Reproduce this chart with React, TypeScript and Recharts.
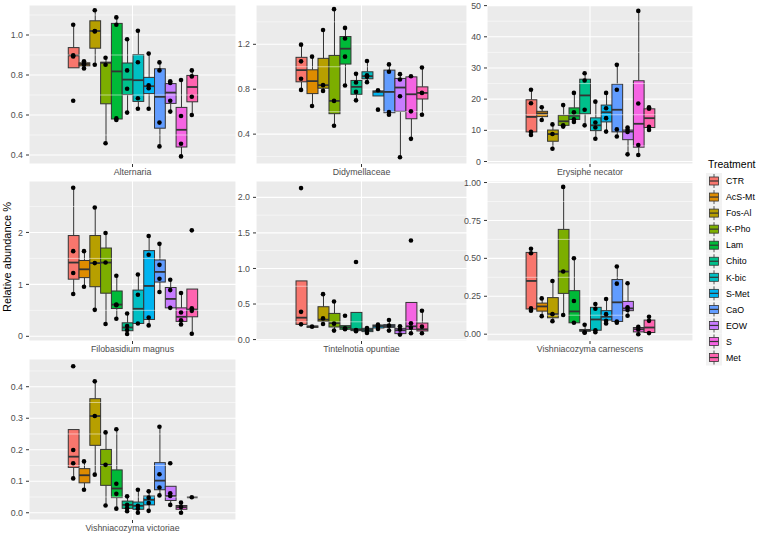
import React from "react";
import {
  Bar,
  CartesianGrid,
  ComposedChart,
  ReferenceLine,
  Scatter,
  XAxis,
  YAxis,
} from "recharts";

const TREATMENTS = ["CTR", "AcS-Mt", "Fos-Al", "K-Pho", "Lam", "Chito", "K-bic", "S-Met", "CaO", "EOW", "S", "Met"];
const COLORS = ["#F8766D", "#DE8C00", "#B79F00", "#7CAE00", "#00BA38", "#00C08B", "#00BFC4", "#00B4F0", "#619CFF", "#C77CFF", "#F564E3", "#FF64B0"];

// box stats per treatment: [lower whisker, q1, median, q3, upper whisker]
const ALT_BOX = [
  [0.836, 0.836, 0.898, 0.937, 1.051], [0.833, 0.846, 0.855, 0.861, 0.869], [0.851, 0.934, 1.02, 1.071, 1.124],
  [0.459, 0.656, 0.861, 0.864, 0.886], [0.575, 0.58, 0.818, 1.058, 1.088], [0.612, 0.702, 0.777, 0.86, 0.979],
  [0.631, 0.668, 0.774, 0.902, 1.021], [0.631, 0.707, 0.744, 0.788, 0.907], [0.443, 0.534, 0.691, 0.831, 0.863],
  [0.617, 0.658, 0.712, 0.757, 0.769], [0.393, 0.44, 0.526, 0.638, 0.775], [0.6, 0.666, 0.74, 0.798, 0.823],
];
const ALT_PTS = [
  [1.051, 0.898, 0.893, 0.671], [0.869, 0.856, 0.853, 0.833], [1.124, 1.02, 1.018, 0.851], [0.886, 0.851, 0.459],
  [1.088, 1.051, 0.583, 0.575], [0.979, 0.823, 0.731, 0.612], [1.021, 0.864, 0.684, 0.631], [0.907, 0.749, 0.734, 0.631],
  [0.863, 0.823, 0.562, 0.443], [0.769, 0.76, 0.671, 0.617], [0.775, 0.595, 0.456, 0.393], [0.823, 0.793, 0.691, 0.6],
];

const DID_BOX = [
  [0.794, 0.866, 0.97, 1.084, 1.197], [0.651, 0.761, 0.872, 0.973, 1.09], [0.785, 0.809, 0.836, 1.075, 1.328],
  [0.475, 0.582, 0.696, 1.101, 1.513], [0.833, 1.024, 1.161, 1.269, 1.346], [0.701, 0.755, 0.821, 0.878, 0.937],
  [0.863, 0.893, 0.916, 0.955, 1.051], [0.74, 0.74, 0.776, 0.785, 0.791], [0.573, 0.591, 0.776, 0.97, 1.021],
  [0.194, 0.603, 0.815, 0.896, 0.934], [0.358, 0.537, 0.755, 0.91, 0.916], [0.573, 0.713, 0.767, 0.821, 0.994],
];
const DID_PTS = [
  [1.197, 1.048, 0.893, 0.794], [1.09, 0.651], [1.328, 0.836, 0.785], [1.513, 0.696, 0.475],
  [1.346, 1.251, 1.09, 0.833], [0.937, 0.86, 0.776, 0.701], [1.051, 0.925, 0.91, 0.863], [0.791, 0.618],
  [1.021, 0.955, 0.597, 0.573], [0.934, 0.887, 0.737, 0.194], [0.916, 0.603, 0.358], [0.994, 0.767, 0.573],
];

const ERY_BOX = [
  [8.5, 9.5, 14.3, 19.8, 23.0], [13.3, 14.4, 15.4, 16.1, 17.4], [4.1, 6.5, 8.8, 10.1, 11.9],
  [11.2, 11.6, 12.9, 14.8, 18.1], [12.7, 13.5, 14.7, 17.2, 22.0], [11.6, 15.3, 21.2, 26.4, 28.3],
  [7.3, 9.9, 11.6, 14.0, 19.2], [9.6, 12.7, 15.8, 18.1, 22.0], [8.0, 9.5, 16.6, 24.8, 31.0],
  [2.3, 7.0, 9.6, 10.1, 10.9], [2.1, 4.6, 12.1, 25.9, 48.3], [10.1, 10.9, 13.9, 16.9, 17.4],
];
const ERY_PTS = [
  [23.0, 18.7, 9.5, 8.5], [17.4, 13.3], [11.9, 8.8, 4.1], [18.1, 11.6, 11.2],
  [22.0, 15.8, 13.5, 12.7], [28.3, 26.0, 16.6, 11.6], [19.2, 12.5, 10.9, 7.3], [22.0, 17.1, 13.9, 9.6],
  [31.0, 23.0, 10.3, 8.0], [10.9, 10.2, 9.5, 2.3], [48.3, 18.6, 5.3, 2.1], [17.4, 16.9, 11.1, 10.1],
];

const FIL_BOX = [
  [0.815, 1.1, 1.42, 1.94, 2.86], [0.955, 1.13, 1.29, 1.46, 1.64], [0.51, 0.955, 1.41, 1.94, 2.48],
  [0.236, 0.83, 1.42, 1.7, 1.99], [0.338, 0.535, 0.611, 0.873, 1.166], [0.045, 0.108, 0.17, 0.26, 0.44],
  [0.248, 0.248, 0.53, 0.89, 1.19], [0.21, 0.325, 0.97, 1.65, 1.93], [0.854, 1.045, 1.24, 1.47, 1.78],
  [0.548, 0.548, 0.72, 0.94, 1.09], [0.23, 0.287, 0.376, 0.548, 0.834], [0.05, 0.376, 0.516, 0.91, 0.91],
];
const FIL_PTS = [
  [2.86, 1.64, 1.22, 0.815], [1.64, 0.955], [2.48, 1.41, 0.51], [1.99, 1.42, 0.236],
  [1.166, 0.611, 0.6, 0.338], [0.44, 0.2, 0.12, 0.045], [1.19, 0.8, 0.248], [1.93, 1.57, 0.36, 0.21],
  [1.78, 1.376, 1.108, 0.854], [1.09, 0.89, 0.548], [0.834, 0.46, 0.31, 0.23], [2.04, 0.54, 0.49, 0.05],
];

const TIN_BOX = [
  [0.214, 0.214, 0.308, 0.825, 0.825], [0.172, 0.172, 0.182, 0.191, 0.191], [0.219, 0.256, 0.28, 0.462, 0.639],
  [0.126, 0.177, 0.233, 0.368, 0.536], [0.145, 0.145, 0.172, 0.196, 0.196], [0.117, 0.126, 0.145, 0.382, 0.382],
  [0.093, 0.112, 0.135, 0.158, 0.163], [0.149, 0.163, 0.191, 0.205, 0.21], [0.126, 0.172, 0.191, 0.21, 0.275],
  [0.07, 0.084, 0.131, 0.158, 0.186], [0.089, 0.145, 0.186, 0.522, 0.522], [0.089, 0.121, 0.145, 0.233, 0.406],
];
const TIN_PTS = [
  [2.13, 0.39, 0.214], [0.182], [0.639, 0.298, 0.219], [0.536, 0.224, 0.126],
  [0.336, 0.158, 0.145], [1.09, 0.135, 0.117], [0.163, 0.126, 0.093], [0.21, 0.182, 0.149],
  [0.275, 0.196, 0.126], [0.186, 0.14, 0.07], [1.394, 0.228, 0.168, 0.089], [0.406, 0.182, 0.089],
];

const CAR_BOX = [
  [0.15, 0.166, 0.351, 0.539, 0.563], [0.119, 0.152, 0.183, 0.205, 0.236], [0.086, 0.108, 0.132, 0.241, 0.351],
  [0.126, 0.269, 0.413, 0.691, 0.971], [0.075, 0.075, 0.15, 0.287, 0.501], [0.009, 0.02, 0.024, 0.031, 0.062],
  [0.013, 0.026, 0.097, 0.177, 0.199], [0.071, 0.093, 0.115, 0.155, 0.232], [0.075, 0.084, 0.21, 0.36, 0.446],
  [0.121, 0.155, 0.17, 0.216, 0.336], [0.0, 0.015, 0.033, 0.044, 0.049], [0.007, 0.011, 0.044, 0.093, 0.115],
];
const CAR_PTS = [
  [0.563, 0.534, 0.17, 0.155], [0.236, 0.119], [0.351, 0.132, 0.086], [0.971, 0.413, 0.126],
  [0.501, 0.219, 0.075], [0.062, 0.013, 0.009], [0.199, 0.168, 0.026, 0.013], [0.232, 0.132, 0.088, 0.071],
  [0.446, 0.333, 0.084, 0.075], [0.336, 0.177, 0.159, 0.121], [0.049, 0.031, 0.0], [0.115, 0.088, 0.007],
];

const VIC_BOX = [
  [0.109, 0.144, 0.178, 0.264, 0.264], [0.073, 0.095, 0.119, 0.14, 0.163], [0.121, 0.214, 0.307, 0.362, 0.417],
  [0.023, 0.087, 0.152, 0.201, 0.255], [0.013, 0.048, 0.077, 0.136, 0.265], [0.005, 0.014, 0.025, 0.037, 0.052],
  [0.0, 0.011, 0.022, 0.034, 0.073], [0.006, 0.025, 0.041, 0.053, 0.068], [0.055, 0.073, 0.102, 0.159, 0.273],
  [0.025, 0.039, 0.053, 0.084, 0.084], [0.0, 0.011, 0.018, 0.023, 0.032], [0.049, 0.049, 0.049, 0.049, 0.049],
];
const VIC_PTS = [
  [0.465, 0.199, 0.157, 0.109], [0.163, 0.073], [0.417, 0.307, 0.121], [0.255, 0.152, 0.023],
  [0.265, 0.092, 0.06, 0.013], [0.052, 0.025, 0.014, 0.005], [0.073, 0.022, 0.013, 0.0], [0.068, 0.048, 0.031, 0.006],
  [0.273, 0.122, 0.08, 0.055], [0.157, 0.062, 0.053, 0.025], [0.032, 0.018, 0.0], [0.049],
];

const ALT_TICKS = [0.4, 0.6, 0.8, 1.0];
const DID_TICKS = [0.4, 0.8, 1.2];
const ERY_TICKS = [0, 10, 20, 30, 40, 50];
const FIL_TICKS = [0, 1, 2];
const TIN_TICKS = [0, 0.5, 1.0, 1.5, 2.0];
const CAR_TICKS = [0, 0.25, 0.5, 0.75, 1.0];
const VIC_TICKS = [0, 0.1, 0.2, 0.3, 0.4];

const FONT = "'Liberation Sans', Arial, sans-serif";
const COL_X = [29, 256, 487];
const COL_W = [207, 211, 206];
const ROW_Y = [5, 181, 359];
const ROW_H = [159, 160, 161];
const YW = 28;
const XH = 20;
const TOP = 8;
const X_DOMAIN: [number, number] = [-4.1, 15.1];

const PANELS = [
  { name: "Alternaria", box: ALT_BOX, pts: ALT_PTS, ticks: ALT_TICKS, domain: [0.355, 1.15], digits: 1, col: 0, row: 0 },
  { name: "Didymellaceae", box: DID_BOX, pts: DID_PTS, ticks: DID_TICKS, domain: [0.134, 1.55], digits: 1, col: 1, row: 0 },
  { name: "Erysiphe necator", box: ERY_BOX, pts: ERY_PTS, ticks: ERY_TICKS, domain: [-0.8, 50.2], digits: 0, col: 2, row: 0 },
  { name: "Filobasidium magnus", box: FIL_BOX, pts: FIL_PTS, ticks: FIL_TICKS, domain: [-0.09, 2.99], digits: 0, col: 0, row: 1 },
  { name: "Tintelnotia opuntiae", box: TIN_BOX, pts: TIN_PTS, ticks: TIN_TICKS, domain: [-0.02, 2.23], digits: 1, col: 1, row: 1 },
  { name: "Vishniacozyma carnescens", box: CAR_BOX, pts: CAR_PTS, ticks: CAR_TICKS, domain: [-0.045, 1.01], digits: 2, col: 2, row: 1 },
  { name: "Vishniacozyma victoriae", box: VIC_BOX, pts: VIC_PTS, ticks: VIC_TICKS, domain: [-0.023, 0.488], digits: 1, col: 0, row: 2 },
];

function BoxShape(props: any) {
  const { x, y, width, height, payload, bw } = props;
  if (payload == null || !Number.isFinite(y)) return null;
  const cx = x + width / 2;
  const top = Math.min(y, y + height);
  const h = Math.abs(height);
  const span = payload.hi - payload.lo;
  const py = (v: number) => (span > 0 ? top + (h * (payload.hi - v)) / span : top);
  const left = cx - bw / 2;
  return (
    <g>
      <line x1={cx} x2={cx} y1={py(payload.hi)} y2={py(payload.q3)} stroke="#333" strokeWidth={1} />
      <line x1={cx} x2={cx} y1={py(payload.q1)} y2={py(payload.lo)} stroke="#333" strokeWidth={1} />
      <rect x={left} y={py(payload.q3)} width={bw} height={Math.max(0, py(payload.q1) - py(payload.q3))} fill={payload.fill} stroke="#333" strokeWidth={1} />
      <line x1={left} x2={left + bw} y1={py(payload.med)} y2={py(payload.med)} stroke="#333" strokeWidth={1.8} />
    </g>
  );
}

function Panel({ p }: { p: (typeof PANELS)[number] }) {
  const pw = COL_W[p.col];
  const ph = ROW_H[p.row];
  const bw = pw / (X_DOMAIN[1] - X_DOMAIN[0]);
  const rows = p.box.map((b, i) => ({ x: i, lo: b[0], q1: b[1], med: b[2], q3: b[3], hi: b[4], fill: COLORS[i] }));
  const points = p.pts.flatMap((vals, i) => vals.map((v) => ({ x: i, y: v })));
  const step = p.ticks[1] - p.ticks[0];
  const minor = [p.ticks[0] - step / 2, ...p.ticks.map((t) => t + step / 2)];

  return (
    <div style={{ position: "absolute", left: COL_X[p.col] - YW, top: ROW_Y[p.row] - TOP }}>
      <ComposedChart width={pw + YW} height={ph + XH + TOP} data={rows} margin={{ top: TOP, right: 0, bottom: 0, left: 0 }}>
        <CartesianGrid fill="#EBEBEB" stroke="#FFFFFF" strokeWidth={1.1} />
        {minor.map((m) => (
          <ReferenceLine key={m} y={m} stroke="#FFFFFF" strokeWidth={0.5} ifOverflow="discard" />
        ))}
        <XAxis
          type="number"
          dataKey="x"
          domain={X_DOMAIN}
          allowDataOverflow
          ticks={[5.5]}
          interval={0}
          tickFormatter={() => p.name}
          height={XH}
          axisLine={false}
          tickLine={{ stroke: "#333" }}
          tickSize={3}
          tickMargin={2}
          tick={{ fontSize: 8.8, fill: "#4D4D4D" }}
        />
        <YAxis
          type="number"
          domain={p.domain as [number, number]}
          allowDataOverflow
          ticks={p.ticks}
          interval={0}
          tickFormatter={(v: number) => v.toFixed(p.digits)}
          width={YW}
          axisLine={false}
          tickLine={{ stroke: "#333" }}
          tickSize={3}
          tickMargin={3}
          tick={{ fontSize: 8.8, fill: "#4D4D4D" }}
        />
        <Bar
          dataKey={(d: any) => [d.lo, d.hi]}
          barSize={bw}
          isAnimationActive={false}
          shape={(sp: any) => <BoxShape {...sp} bw={bw} />}
        />
        <Scatter
          data={points}
          dataKey="y"
          isAnimationActive={false}
          shape={(sp: any) => <circle cx={sp.cx} cy={sp.cy} r={2.3} fill="#000" />}
        />
      </ComposedChart>
    </div>
  );
}

function Legend() {
  return (
    <g>
      <text x={708} y={168} fontSize={10.5} fill="#000">Treatment</text>
      {TREATMENTS.map((t, i) => {
        const cy = 181 + i * 16.05;
        return (
          <g key={t}>
            <rect x={706} y={cy - 8} width={16} height={16} fill="#F2F2F2" />
            <line x1={714} x2={714} y1={cy - 7} y2={cy + 7} stroke="#333" strokeWidth={0.8} />
            <rect x={709.5} y={cy - 4} width={9} height={8} fill={COLORS[i]} stroke="#333" strokeWidth={0.8} />
            <line x1={709.5} x2={718.5} y1={cy} y2={cy} stroke="#333" strokeWidth={1.2} />
            <text x={726} y={cy + 3.2} fontSize={8.8} fill="#000">{t}</text>
          </g>
        );
      })}
    </g>
  );
}

export default function App() {
  return (
    <div style={{ position: "absolute", left: 0, top: 0, width: 758, height: 536, background: "#fff", fontFamily: FONT }}>
      {PANELS.map((p) => (
        <Panel key={p.name} p={p} />
      ))}
      <svg width={758} height={536} style={{ position: "absolute", left: 0, top: 0, pointerEvents: "none" }}>
        <text x={10.5} y={257} fontSize={11} fill="#000" textAnchor="middle" transform="rotate(-90 10.5 257)">
          Relative abundance %
        </text>
        <Legend />
      </svg>
    </div>
  );
}
